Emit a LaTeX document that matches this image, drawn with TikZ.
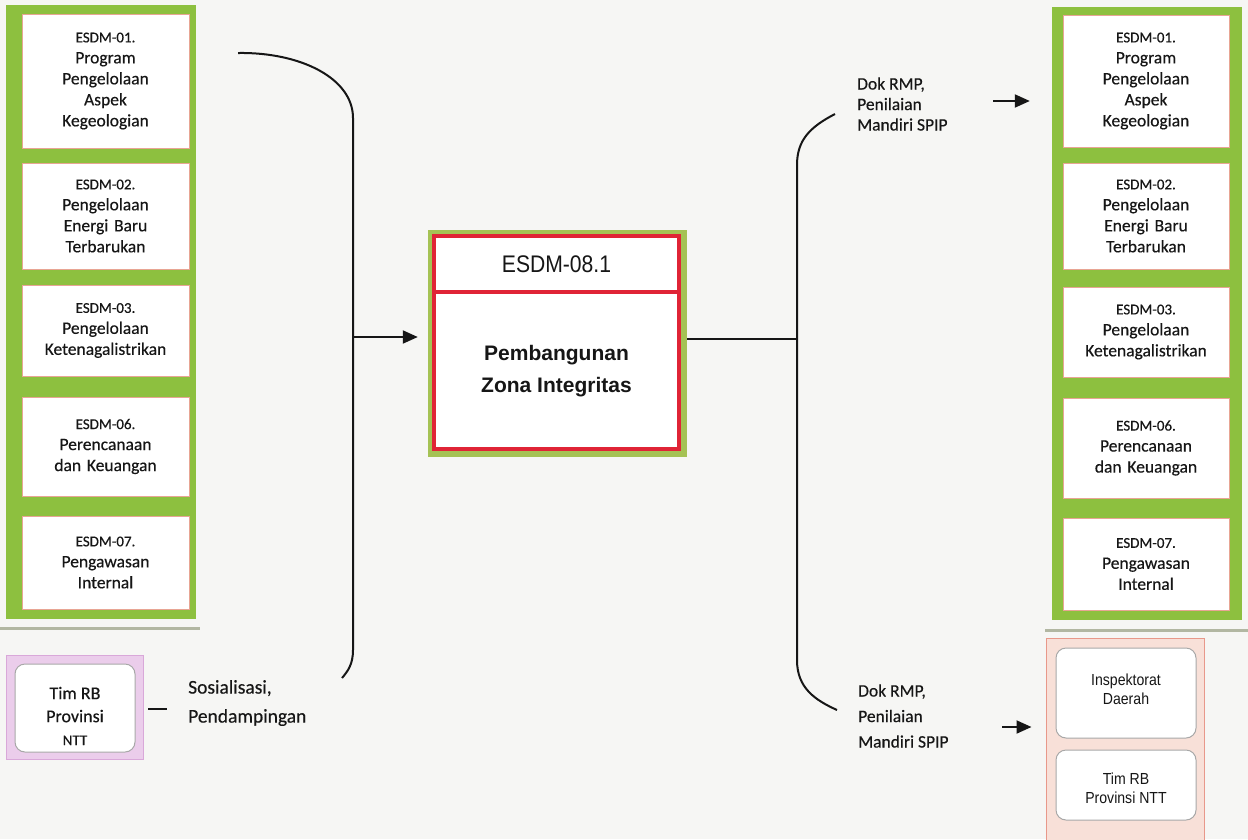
\documentclass[tikz,border=0pt]{standalone}
\usepackage{fontspec}
\setmainfont{Carlito}[FakeBold=0.35]
\newfontfamily\arialf{Liberation Sans}
\newfontfamily\arialn{Liberation Sans}[FakeStretch=0.88]
\usetikzlibrary{arrows.meta,positioning}
\definecolor{bg}{HTML}{F6F6F4}
\definecolor{grn}{HTML}{8DC03F}
\definecolor{olive}{HTML}{A5C254}
\definecolor{salmon}{HTML}{E8A594}
\definecolor{redz}{HTML}{E02436}
\definecolor{pinkf}{HTML}{EBCDEB}
\definecolor{pinkd}{HTML}{D9A8D9}
\definecolor{peachf}{HTML}{F8E0D8}
\definecolor{peachd}{HTML}{E8988A}
\definecolor{grayb}{HTML}{A8A8A8}
\definecolor{ink}{HTML}{161616}
\definecolor{shadecol}{HTML}{B2B7A2}
\tikzset{
  gcol/.style={fill=grn, draw=none, inner sep=0pt},
  ebox/.style={fill=white, draw=salmon, line width=1pt, inner sep=0pt, align=center,
    text=ink, font=\fontsize{17.5}{21}\selectfont, text width=160pt},
  rbox/.style={fill=white, draw=grayb, line width=1pt, rounded corners=10pt, inner sep=0pt},
  rtext/.style={align=center, text=ink, inner sep=0pt},
  conn/.style={draw=ink, line width=2pt},
  arr/.style={draw=ink, line width=2pt, -{Triangle[length=15pt,width=13pt]}},
  lbl/.style={anchor=west, align=left, text=ink, inner sep=0pt},
  shadowline/.style={draw=shadecol, line width=3pt}
}
\newcommand{\esdl}[1]{{\fontsize{15}{21}\selectfont #1}}
\begin{document}
\begin{tikzpicture}[x=1pt,y=-1pt]
\useasboundingbox (0,0) rectangle (1248,839);
\fill[bg] (0,0) rectangle (1248,839);
% shadow lines
\draw[shadowline] (0,628) -- (200,628);
\draw[shadowline] (1045,630) -- (1248,630);
% left column
\node[gcol, minimum width=190pt, minimum height=614pt] (lcol) at (101,312) {};
\node[ebox, minimum width=167pt, minimum height=134pt] (l1) at (105.5,81) {\esdl{ESDM-01.}\\Program\\Pengelolaan\\Aspek\\Kegeologian};
\node[ebox, minimum width=167pt, minimum height=106pt] (l2) at (105.5,216) {\esdl{ESDM-02.}\\Pengelolaan\\Energi Baru\\Terbarukan};
\node[ebox, minimum width=167pt, minimum height=91pt] (l3) at (105.5,330.5) {\esdl{ESDM-03.}\\Pengelolaan\\Ketenagalistrikan};
\node[ebox, minimum width=167pt, minimum height=99pt] (l4) at (105.5,446.5) {\esdl{ESDM-06.}\\Perencanaan\\dan Keuangan};
\node[ebox, minimum width=167pt, minimum height=93pt] (l5) at (105.5,562.5) {\esdl{ESDM-07.}\\Pengawasan\\Internal};
% right column
\node[gcol, minimum width=190pt, minimum height=613pt] (rcol) at (1147,313.5) {};
\node[ebox, minimum width=166pt, minimum height=132pt] (r1) at (1146,81) {\esdl{ESDM-01.}\\Program\\Pengelolaan\\Aspek\\Kegeologian};
\node[ebox, minimum width=166pt, minimum height=106pt] (r2) at (1146,216) {\esdl{ESDM-02.}\\Pengelolaan\\Energi Baru\\Terbarukan};
\node[ebox, minimum width=166pt, minimum height=90pt] (r3) at (1146,332) {\esdl{ESDM-03.}\\Pengelolaan\\Ketenagalistrikan};
\node[ebox, minimum width=166pt, minimum height=100pt] (r4) at (1146,448) {\esdl{ESDM-06.}\\Perencanaan\\dan Keuangan};
\node[ebox, minimum width=166pt, minimum height=92pt] (r5) at (1146,564) {\esdl{ESDM-07.}\\Pengawasan\\Internal};
% center box
\node[fill=olive, draw=none, minimum width=259pt, minimum height=227pt, inner sep=0pt] (cbox) at (557.5,343.5) {};
\node[fill=white, draw=redz, line width=4pt, minimum width=245pt, minimum height=213pt, inner sep=0pt] (cred) at (556.5,342.5) {};
\coordinate (dvl) at (434,292);
\draw[redz, line width=4pt] (dvl) -- (dvl -| cred.east);
\node[text=ink, font=\arialn\fontsize{24}{28}\selectfont] (ctitle) at (556.5,264) {ESDM-08.1};
\node[text=ink, align=center, font=\arialf\bfseries\fontsize{21}{32}\selectfont] (cbody) at (556.5,371) {Pembangunan\\Zona Integritas};
% Tim RB left
\node[fill=pinkf, draw=pinkd, line width=1pt, minimum width=137pt, minimum height=104pt, inner sep=0pt] (tout) at (74.5,707) {};
\node[rbox, minimum width=120pt, minimum height=88pt] (tin) at (75,708) {};
\node[rtext, font=\fontsize{18}{23}\selectfont] (timrb) at (75,716) {Tim RB\\Provinsi\\{\fontsize{15}{23}\selectfont NTT}};
% bottom-right box
\node[fill=peachf, draw=peachd, line width=1pt, minimum width=158pt, minimum height=205pt, inner sep=0pt] (bout) at (1125,740.5) {};
\node[rbox, minimum width=140pt, minimum height=90pt] (insp) at (1126,693) {};
\node[rtext, font=\arialn\fontsize{16}{19}\selectfont] (insptx) at (1126,689) {Inspektorat\\Daerah};
\node[rbox, minimum width=140pt, minimum height=70pt] (tim2) at (1126,785) {};
\node[rtext, font=\arialn\fontsize{16}{19}\selectfont] (tim2tx) at (1126,788) {Tim RB\\Provinsi NTT};
% labels
\node[lbl, font=\fontsize{19.5}{29}\selectfont] (sos) at (188,703) {Sosialisasi,\\Pendampingan};
\node[lbl, font=\fontsize{17.5}{20.5}\selectfont] (dok1) at (857,104) {Dok RMP,\\Penilaian\\Mandiri SPIP};
\node[lbl, font=\fontsize{17.5}{25.5}\selectfont] (dok2) at (858,716) {Dok RMP,\\Penilaian\\Mandiri SPIP};
% left brace
\coordinate (lbA) at (238,53);
\coordinate (lbB) at (353,118);
\coordinate (lbM) at (353,337);
\coordinate (lbC) at (353,650);
\coordinate (lbD) at (342,678);
\draw[conn] (lbA) .. controls (300,52) and (353,78) .. (lbB) -- (lbC) .. controls (353,664) and (348,671) .. (lbD);
\draw[arr, shorten >=10pt] (lbM) -- (lbM -| cbox.west);
% right brace
\coordinate (rbM) at (797,339);
\coordinate (rbA) at (835,114);
\coordinate (rbB) at (797,165);
\coordinate (rbC) at (797,660);
\coordinate (rbD) at (837,710);
\draw[conn] (cbox.east |- rbM) -- (rbM);
\draw[conn] (rbA) .. controls (810,127) and (797,140) .. (rbB) -- (rbC) .. controls (797,688) and (815,700) .. (rbD);
% side arrows
\coordinate (ta) at (993,101);
\draw[arr, shorten >=22pt] (ta) -- (ta -| rcol.west);
\coordinate (ba) at (1002,727);
\draw[arr, shorten >=14pt] (ba) -- (ba -| bout.west);
% dash
\coordinate (da) at (148,709);
\coordinate (db) at (167,709);
\draw[conn] (da) -- (db);
\end{tikzpicture}
\end{document}
